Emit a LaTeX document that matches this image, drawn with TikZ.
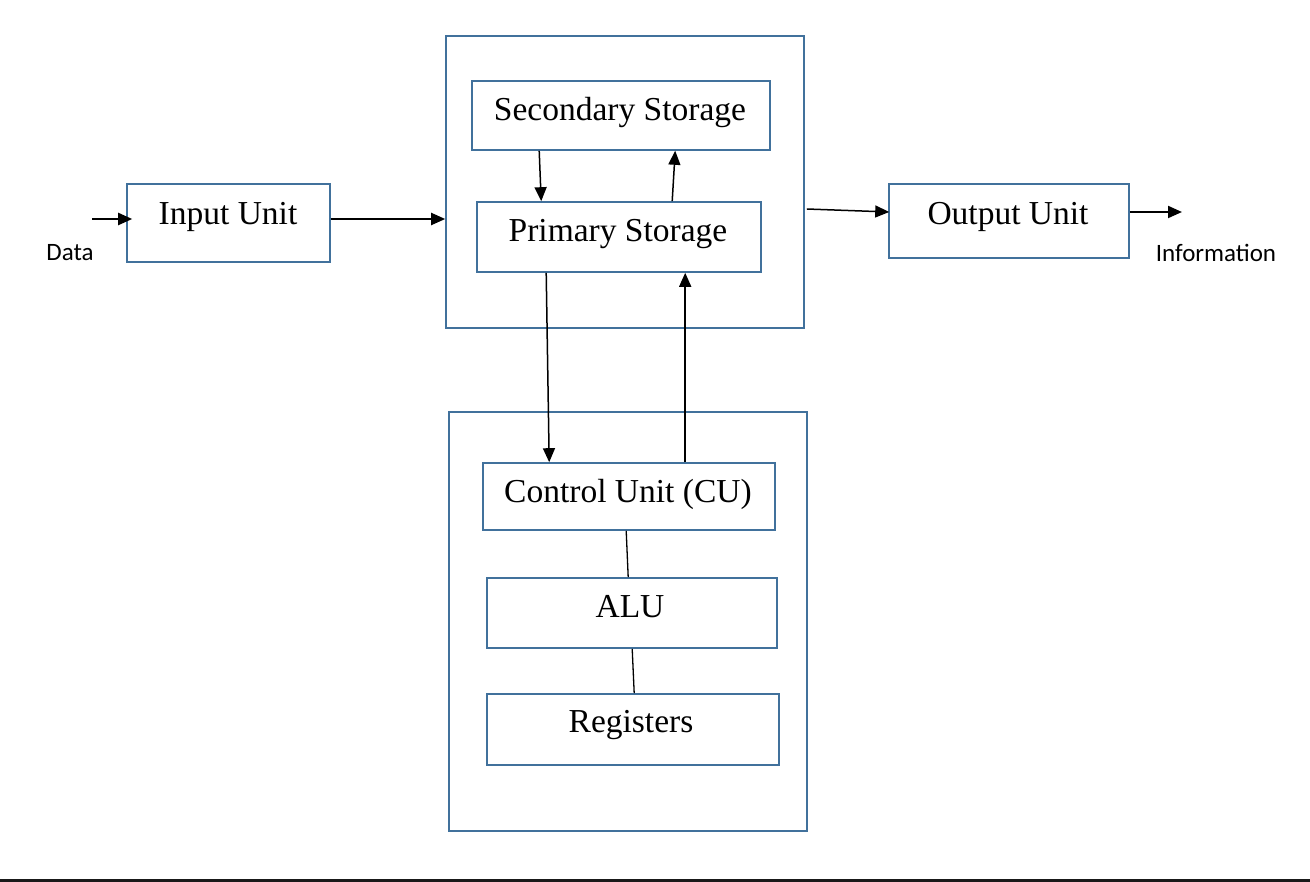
\documentclass[tikz,border=0pt]{standalone}
\usepackage{fontspec}
\setmainfont{Liberation Serif}
\newfontfamily\calfont{Carlito}
\usetikzlibrary{arrows.meta,calc}
\definecolor{boxblue}{RGB}{65,113,156}
\tikzset{
  box/.style={draw=boxblue, line width=1.6pt, rectangle, inner sep=0pt},
  txt/.style={anchor=base, inner sep=0pt, font=\fontsize{33.5}{36}\selectfont},
  lbl/.style={anchor=base, inner sep=0pt, font=\calfont\fontsize{25}{28}\selectfont},
  arr/.style={line width=1.5pt, -{Triangle[length=14pt,width=12pt]}},
  ln/.style={line width=1.3pt}
}
\begin{document}
\begin{tikzpicture}[x=1pt,y=-1pt]
\useasboundingbox (0,0) rectangle (1310,882);
\fill[black!90] (0,879) rectangle (1310,882);

% boxes
\node[box, minimum width=203pt, minimum height=78pt] (inp) at (228.5,223) {};
\node[box, minimum width=358pt, minimum height=292pt] (top) at (625,182) {};
\node[box, minimum width=298pt, minimum height=69pt] (sec) at (621,115.5) {};
\node[box, minimum width=284pt, minimum height=70pt] (pri) at (619,237) {};
\node[box, minimum width=240pt, minimum height=74pt] (out) at (1009,221) {};
\node[box, minimum width=358pt, minimum height=419pt] (bot) at (628,621.5) {};
\node[box, minimum width=292pt, minimum height=67pt] (cu) at (629,496.5) {};
\node[box, minimum width=290pt, minimum height=70pt] (alu) at (632,613) {};
\node[box, minimum width=292pt, minimum height=71pt] (reg) at (633,729.5) {};

% texts
\node[txt] (tinp) at (228,225) {Input Unit};
\node[txt] (tsec) at (620,121) {Secondary Storage};
\node[txt] (tpri) at (618,242) {Primary Storage};
\node[txt] (tout) at (1008,225) {Output Unit};
\node[txt] (tcu) at (628,503) {Control Unit (CU)};
\node[txt] (talu) at (630,617) {ALU};
\node[txt] (treg) at (631,732) {Registers};
\node[lbl] (tdata) at (70,261) {Data};
\node[lbl] (tinfo) at (1216,262) {Information};

% connectors
\coordinate (dat) at (92,219);
\coordinate (infoEnd) at (1182,212);
\draw[arr, line width=2.2pt, shorten >=-6pt] (dat) -- (inp.west |- dat);
\draw[arr, line width=2pt] ($(inp.east)+(0,-4)$) -- ($(top.west)+(0,37)$);
\draw[arr] ($(top.east)+(2,27)$) -- ($(out.west)+(1,-9)$);
\draw[arr, line width=2pt] ($(out.east)+(0,-9)$) -- (infoEnd);
\draw[arr] ($(sec.south west)+(68,0)$) -- ($(pri.north west)+(65,0)$);
\draw[arr] ($(pri.north west)+(196,0)$) -- ($(sec.south west)+(204,0)$);
\draw[arr] ($(pri.south west)+(70,0)$) -- ($(cu.north west)+(67,0)$);
\draw[arr] ($(cu.north west)+(203,0)$) -- ($(pri.south west)+(209,0)$);
\draw[ln] ($(cu.south west)+(144,0)$) -- ($(alu.north west)+(142,0)$);
\draw[ln] ($(alu.south west)+(146,0)$) -- ($(reg.north west)+(148,0)$);
\end{tikzpicture}
\end{document}
